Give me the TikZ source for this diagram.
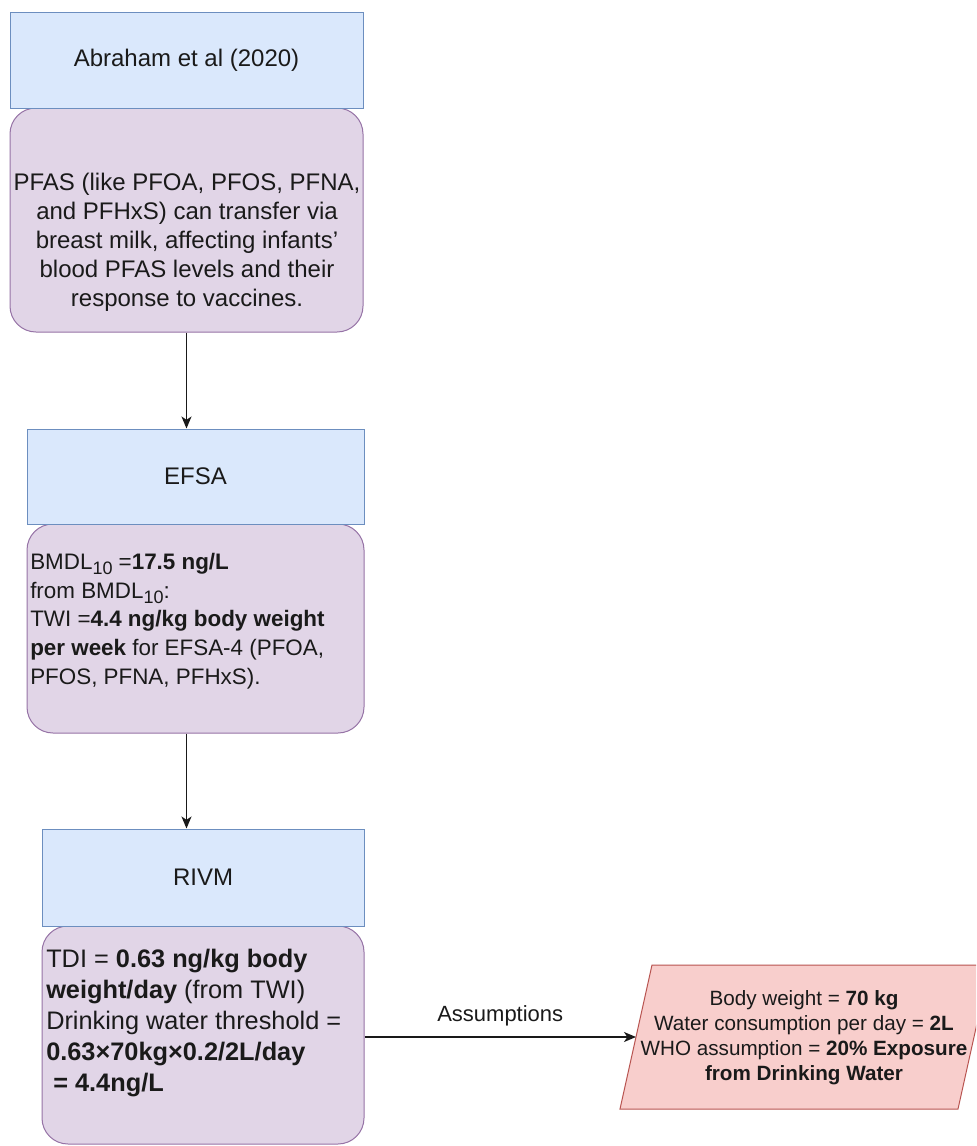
\documentclass[tikz,border=0pt]{standalone}
\usepackage{fontspec}
\setmainfont{Liberation Sans}
\usetikzlibrary{arrows.meta,fit}
\definecolor{hdrfill}{HTML}{DAE8FC}
\definecolor{hdrdraw}{HTML}{6C8EBF}
\definecolor{bodyfill}{HTML}{E1D5E7}
\definecolor{bodydraw}{HTML}{9673A6}
\definecolor{asmfill}{HTML}{F8CECC}
\definecolor{asmdraw}{HTML}{B85450}
\definecolor{txt}{HTML}{1A1A1A}
\newcommand\mysub[1]{\raisebox{-0.45ex}{\fontsize{13.5}{13.5}\selectfont #1}}
\begin{document}
\begin{tikzpicture}[x=0.75pt,y=-0.75pt,
  hdr/.style={draw=hdrdraw, fill=hdrfill, line width=0.75pt, inner sep=0pt},
  hdrtext/.style={text=txt, inner sep=0pt, font=\fontsize{18}{21.75}\selectfont},
  bodybox/.style={draw=bodydraw, fill=bodyfill, line width=0.75pt, rounded corners=19.5pt, inner sep=0pt},
  bodytext/.style={text=txt, inner sep=0pt},
  conn/.style={draw=black!90, line width=1pt, -{Stealth[length=9pt,width=7.5pt,inset=2.5pt]}}]
\useasboundingbox (0,0) rectangle (976,1146);
\clip (0,0) rectangle (976,1146);
\fill[white] (0,0) rectangle (976,1146);

% Box 1
\node[bodybox, fit={(10,108)(363,332)}] (b1) {};
\node[hdr, fit={(10,12)(363,108)}] (h1) {};
\node[hdrtext] (h1t) at (h1.center) {Abraham et al (2020)};
\node[bodytext, align=center, font=\fontsize{18}{21.75}\selectfont] (t1) at (187,242)
  {PFAS (like PFOA, PFOS, PFNA,\\and PFHxS) can transfer via\\breast milk, affecting infants'\\blood PFAS levels and their\\response to vaccines.};

% Box 2
\node[bodybox, fit={(27,524)(364,733)}] (b2) {};
\node[hdr, fit={(27,429)(364,524)}] (h2) {};
\node[hdrtext] (h2t) at (h2.center) {EFSA};
\node[bodytext, align=left, anchor=west, font=\fontsize{16.8}{21.6}\selectfont] (t2) at (30,621)
  {BMDL\mysub{10} =\textbf{17.5 ng/L}\\from BMDL\mysub{10}:\\TWI =\textbf{4.4 ng/kg body weight}\\\textbf{per week} for EFSA-4 (PFOA,\\PFOS, PFNA, PFHxS).};

% Box 3
\node[bodybox, fit={(42,926)(364,1144)}] (b3) {};
\node[hdr, fit={(42,829)(364,926)}] (h3) {};
\node[hdrtext] (h3t) at (h3.center) {RIVM};
\node[bodytext, align=left, anchor=west, font=\fontsize{19}{23.25}\selectfont] (t3) at (46,1023)
  {TDI = \textbf{0.63 ng/kg body}\\\textbf{weight/day} (from TWI)\\Drinking water threshold =\\\textbf{0.63×70kg×0.2/2L/day}\\\textbf{\ = 4.4ng/L}};

% Assumptions parallelogram
\draw[draw=asmdraw, fill=asmfill, line width=0.75pt] (652,965) -- (990,965) -- (958,1109) -- (620,1109) -- cycle;
\coordinate (pl) at (636,1037);
\node[bodytext, align=center, font=\fontsize{15.5}{18.75}\selectfont] (t4) at (804,1038)
  {Body weight = \textbf{70 kg}\\Water consumption per day = \textbf{2L}\\WHO assumption = \textbf{20\% Exposure}\\\textbf{from Drinking Water}};

% Connectors
\draw[conn] (b1.south) -- (b1.south |- h2.north);
\draw[conn] (b1.south |- b2.south) -- (b1.south |- h3.north);
\draw[conn] (b3.east |- pl) -- (pl) node[midway, above=7.5pt, text=txt, inner sep=0pt, font=\fontsize{16.5}{20}\selectfont] (lab) {Assumptions};
\end{tikzpicture}
\end{document}
